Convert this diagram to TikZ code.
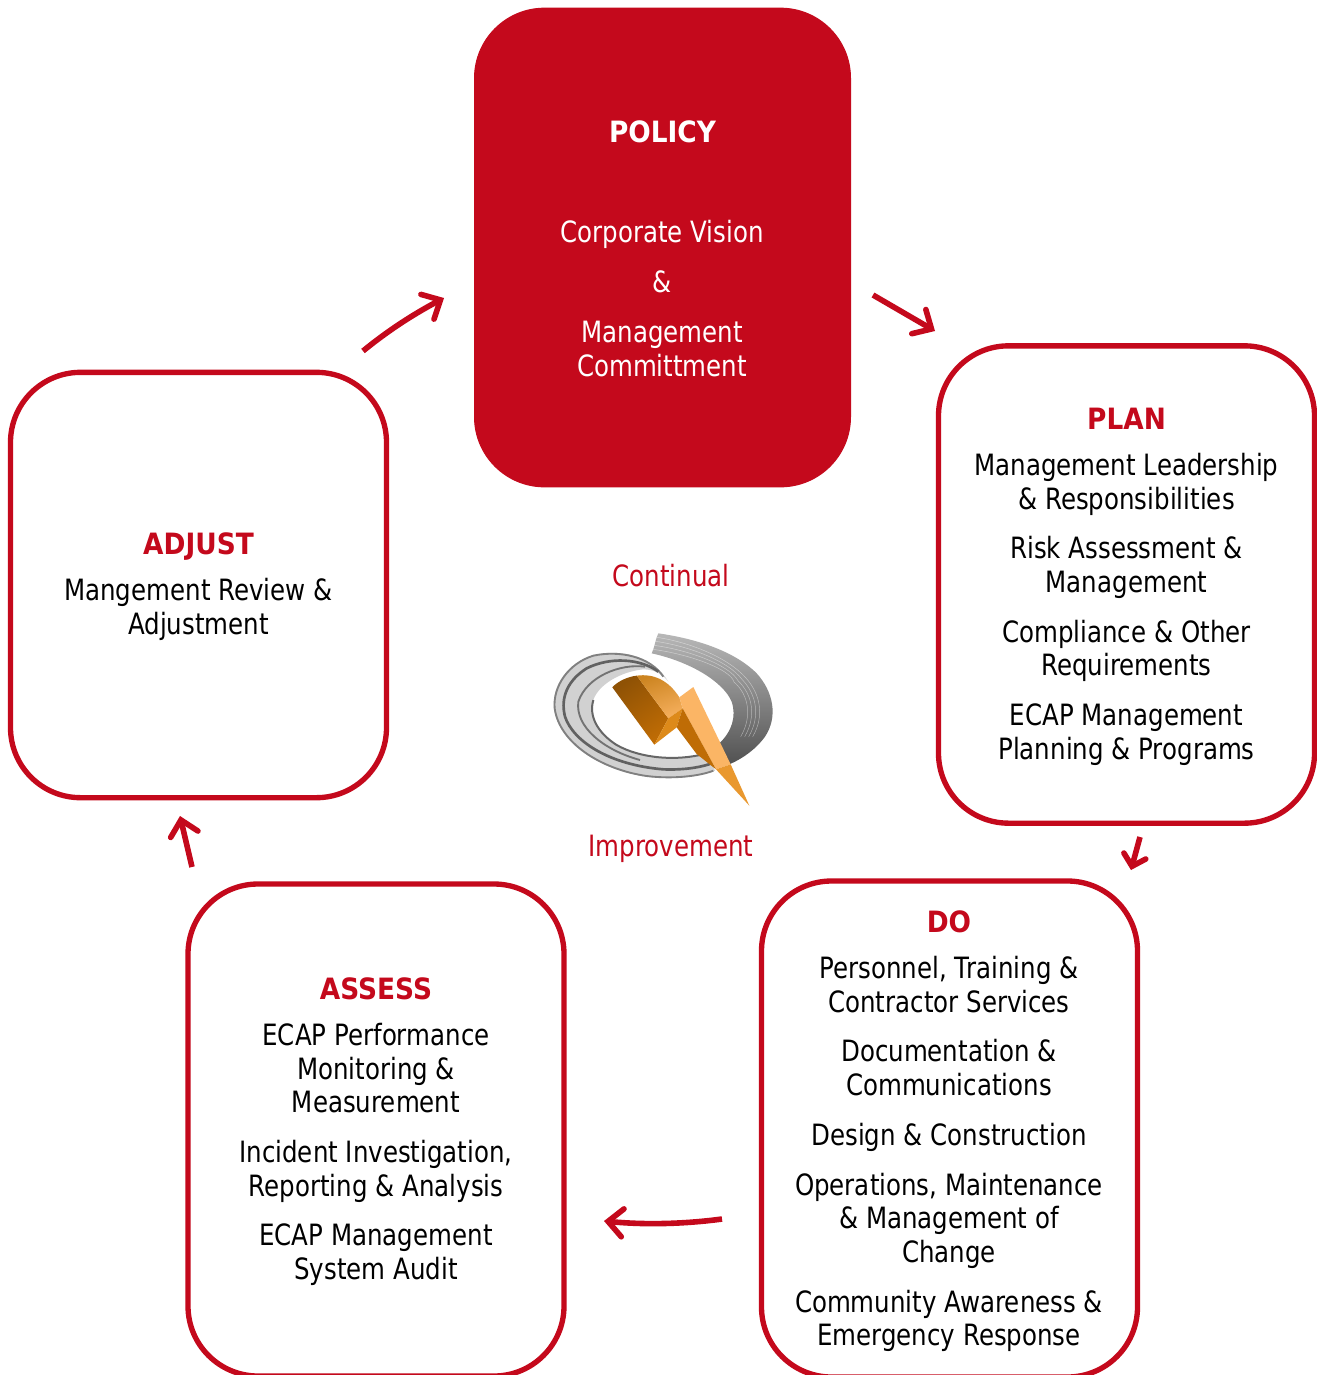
\documentclass[tikz,border=0pt]{standalone}
\usepackage{fontspec}
\setmainfont[FakeStretch=0.835]{DejaVu Sans}
\newfontfamily\headfont[FakeStretch=0.9]{DejaVu Sans}
\usetikzlibrary{arrows.meta,positioning}
\definecolor{ecapred}{HTML}{C4091C}
\definecolor{boltdark}{HTML}{8F5205}
\definecolor{boltmid}{HTML}{BF6C05}
\definecolor{bolttop}{HTML}{CC8420}
\definecolor{boltlight}{HTML}{FBB565}
\definecolor{bolttail}{HTML}{E9982F}
\definecolor{boltfold}{HTML}{DD8A1A}
\newlength{\pxu}\setlength{\pxu}{0.75pt}
\tikzset{
  x=0.75pt,y=-0.75pt,
  box/.style={draw=ecapred,line width=4pt,rounded corners=52.5pt,minimum width=282pt,inner sep=0pt,outer sep=0pt,fill=white},
  policybox/.style={box,fill=ecapred,line width=0.75pt},
  body/.style={align=center,font=\fontsize{22}{25.2}\selectfont,text=black,inner sep=0pt},
  headline/.style={font=\headfont\fontsize{22}{25.2}\selectfont\bfseries,text=ecapred,inner sep=0pt},
  policytext/.style={body,text=white},
  redtext/.style={font=\fontsize{22}{25.2}\selectfont,text=ecapred,inner sep=0pt},
  flow/.style={draw=ecapred,line width=4.2pt,-{Straight Barb[length=11pt,width=21pt,line width=4.2pt,line cap=round,line join=miter]}},
}
\begin{document}
\begin{tikzpicture}
\useasboundingbox (0,0) rectangle (1317,1375);
\clip (0,0) rectangle (1317,1375);
\fill[white] (0,0) rectangle (1317,1375);
% boxes
\node[policybox,minimum height=359pt] (policy) at (662.5,247.5) {};
\node[box,minimum height=358pt] (plan) at (1126.5,584.5) {};
\node[box,minimum height=319pt] (adjust) at (198.5,585) {};
\node[box,minimum height=369pt] (assess) at (376,1130) {};
\node[box,minimum height=372pt] (do) at (949.5,1129) {};
% policy
\node[headline,text=white] (policyhead) at (662.5,132) {POLICY};
\node[policytext,anchor=north] (policybody) at (662,220) {Corporate Vision\\[16.5\pxu]\&\\[16.5\pxu]Management\\Committment};
% plan
\node[headline] (planhead) at (1126.5,419) {PLAN};
\node[body,anchor=north] (planbody) at (1126.5,453) {Management Leadership\\\& Responsibilities\\[16.2\pxu]Risk Assessment \&\\Management\\[16.2\pxu]Compliance \& Other\\Requirements\\[16.2\pxu]ECAP Management\\Planning \& Programs};
% do
\node[headline] (dohead) at (949,922) {DO};
\node[body,anchor=north] (dobody) at (949,956) {Personnel, Training \&\\Contractor Services\\[16.2\pxu]Documentation \&\\Communications\\[16.2\pxu]Design \& Construction\\[16.2\pxu]Operations, Maintenance\\\& Management of\\Change\\[16.2\pxu]Community Awareness \&\\Emergency Response};
% assess
\node[headline] (assesshead) at (376,989) {ASSESS};
\node[body,anchor=north] (assessbody) at (376,1023) {ECAP Performance\\Monitoring \&\\Measurement\\[16.2\pxu]Incident Investigation,\\Reporting \& Analysis\\[16.2\pxu]ECAP Management\\System Audit};
% adjust
\node[headline] (adjusthead) at (198.5,547) {ADJUST};
\node[body,anchor=north] (adjustbody) at (198.5,578) {Mangement Review \&\\Adjustment};
% centre
\node[redtext] (continual) at (671,576) {Continual};
\node[redtext] (improvement) at (671,849) {Improvement};
% logo
\begin{scope}[shift={(530,610)},x=0.25pt,y=-0.25pt]
  % right swoosh
  \shade[top color=black!28,bottom color=black!68]
    (385,70) .. controls (490,85) and (610,120) .. (680,190)
    .. controls (730,245) and (745,320) .. (705,380)
    .. controls (680,415) and (640,445) .. (600,462)
    -- (568,400)
    .. controls (605,365) and (620,320) .. (605,275)
    .. controls (580,215) and (480,155) .. (365,130)
    .. controls (375,110) and (375,90) .. (385,70) -- cycle;
  \foreach \o in {12,24,36,48}
    \draw[white,line width=0.35pt,opacity=0.45]
      (385-\o/3,70+\o) .. controls (480,85+\o) and (590+\o/4,130+\o) .. (660-\o,200+\o/3)
      .. controls (705-\o,255) and (715-\o,320) .. (680-\o,380);
  % left swoosh
  \fill[black!18]
    (415,215) .. controls (370,140) and (280,115) .. (190,135)
    .. controls (110,160) and (65,230) .. (72,295)
    .. controls (85,400) and (210,480) .. (350,500)
    .. controls (430,510) and (510,500) .. (555,482)
    -- (530,430)
    .. controls (440,455) and (330,445) .. (260,405)
    .. controls (205,370) and (175,320) .. (190,270)
    .. controls (205,225) and (270,185) .. (340,178)
    .. controls (375,178) and (400,195) .. (415,215) -- cycle;
  \draw[black!50,line width=1.4pt]
    (400,200) .. controls (360,140) and (270,120) .. (190,137)
    .. controls (115,160) and (68,230) .. (74,295)
    .. controls (88,398) and (212,478) .. (350,498)
    .. controls (430,508) and (510,498) .. (550,482);
  \draw[black!62,line width=2pt]
    (385,185) .. controls (330,145) and (240,140) .. (170,175)
    .. controls (115,210) and (90,260) .. (105,320)
    .. controls (130,395) and (240,465) .. (400,478)
    .. controls (450,480) and (500,475) .. (540,462);
  \draw[black!60,line width=1.5pt]
    (190,270) .. controls (175,320) and (205,370) .. (260,405)
    .. controls (330,445) and (440,455) .. (530,430);
  \draw[black!55,line width=1.4pt]
    (345,170) .. controls (270,160) and (170,200) .. (145,275)
    .. controls (135,350) and (220,420) .. (330,450);
  % bolt
  \shade[left color=boltdark,right color=boltmid,shading angle=35]
    (247,232) .. controls (265,212) and (295,200) .. (320,197)
    -- (415,325) -- (373,404) -- cycle;
  \shade[left color=bolttop,right color=boltlight!85!bolttop,shading angle=20]
    (320,197) .. controls (370,190) and (415,210) .. (448,262)
    -- (458,295) -- (415,325) -- cycle;
  \fill[boltfold] (415,325) -- (458,295) -- (440,352) -- (373,404) -- cycle;
  \fill[boltlight] (448,262) -- (490,231) -- (602,463) -- (558,478) -- (458,295) -- cycle;
  \fill[boltmid] (458,295) -- (558,478) -- (500,432) -- (440,352) -- cycle;
  \fill[bolttail] (558,478) -- (602,463) -- (658,587) -- cycle;
\end{scope}
% connector ends
\coordinate (a1s) at (363,351); \coordinate (a1e) at (444,298);
\coordinate (a2s) at (873,295); \coordinate (a2e) at (935,331);
\coordinate (a3s) at (1140,837); \coordinate (a3e) at (1131,870);
\coordinate (a4s) at (722,1219); \coordinate (a4e) at (604,1221);
\coordinate (a5s) at (192,867); \coordinate (a5e) at (180,816);
\draw[flow] (a1s) .. controls (385,333) and (410,316) .. (a1e);
\draw[flow] (a2s) -- (a2e);
\draw[flow,-{Straight Barb[length=8pt,width=17pt,line width=4.2pt,line cap=round,line join=miter]}] (a3s) -- (a3e);
\draw[flow] (a4s) .. controls (685,1224) and (645,1225) .. (a4e);
\draw[flow] (a5s) -- (a5e);
\end{tikzpicture}
\end{document}
